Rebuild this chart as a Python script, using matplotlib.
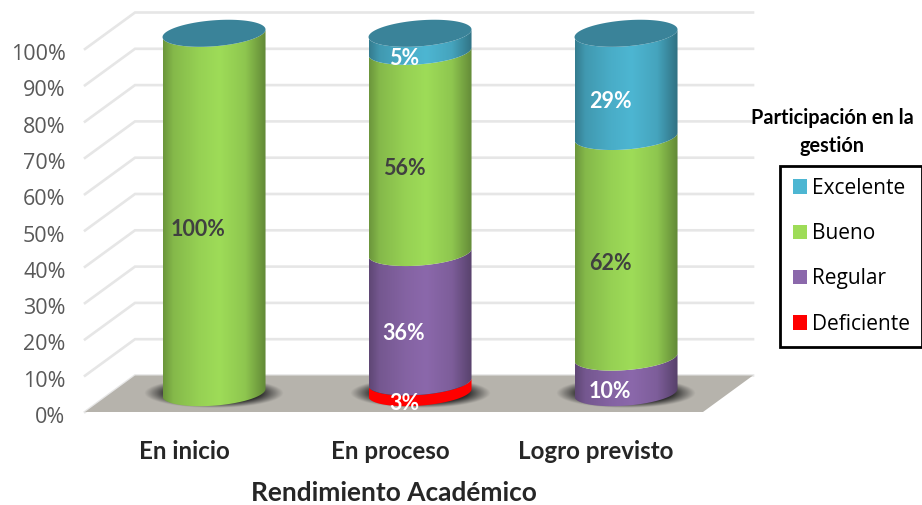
import matplotlib
matplotlib.use('Agg')
import matplotlib.pyplot as plt
import numpy as np
from matplotlib.patches import Patch, PathPatch, Polygon
from matplotlib.path import Path
from matplotlib.transforms import ScaledTranslation

# values
categories = ['En inicio', 'En proceso', 'Logro previsto']
deficiente = [0, 3, 0]
regular = [0, 36, 10]
bueno = [100, 56, 62]
excelente = [0, 5, 29]
y_ticks = [0, 10, 20, 30, 40, 50, 60, 70, 80, 90, 100]

W, H = 922, 505
plt.rcParams['font.family'] = ['Lato', 'DejaVu Sans']

fig = plt.figure(figsize=(W / 100, H / 100), dpi=100)
# front plane of the 3d box: x 85..703 px, y 412..49 px
ax = fig.add_axes([85 / W, 1 - 412 / H, 618 / W, 363 / H])

px_x = 206.0  # px per category
px_y = 3.63   # px per percent
depth_x = 50 / px_x
depth_y = 36.5 / px_y

# back wall lines and side wall lines
for v in y_ticks:
    ax.plot([-0.5, -0.5 + depth_x, 2.5 + depth_x], [v, v + depth_y, v + depth_y],
            color='#e6e6e6', lw=1.9, clip_on=False, zorder=1, solid_joinstyle='miter')

# floor
ax.add_patch(Polygon([(-0.5, 0), (2.5, 0), (2.5 + depth_x, depth_y), (-0.5 + depth_x, depth_y)],
                     closed=True, facecolor='#b6b3ac', edgecolor='none', clip_on=False, zorder=2))

a = 51.5 / px_x   # half width of the cylinder
b = 13 / px_y     # half height of the ellipse
s = 3.8 / px_y    # tilt of the ellipse
cyl_scale = 0.99


def shade(color):
    rgb = np.array(matplotlib.colors.to_rgb(color))
    t = np.linspace(0, 1, 200)
    f = np.interp(t, [0, 0.1, 0.35, 0.55, 0.8, 1], [0.68, 0.84, 0.95, 1.0, 0.9, 0.62])
    return (rgb[None, None, :] * f[None, :, None]).clip(0, 1)


def arc(cx, cy, t):
    return cx + a * np.cos(t), cy + b * np.sin(t) + s * np.cos(t)


def draw_side(cx, y0, y1, color, flat=False):
    t = np.linspace(np.pi, 2 * np.pi, 60)
    x_low, y_low = arc(cx, y0, t)
    x_up, y_up = arc(cx, y1, t[::-1])
    verts = np.column_stack([np.r_[x_low, x_up], np.r_[y_low, y_up]])
    patch = PathPatch(Path(np.vstack([verts, verts[0]]), closed=True), facecolor='none',
                      edgecolor='none', zorder=4)
    ax.add_patch(patch)
    colors = np.ones((1, 200, 3)) * matplotlib.colors.to_rgb(color) if flat else shade(color)
    im = ax.imshow(colors, extent=(cx - a, cx + a, y0 - 2 * b, y1 + 2 * b), aspect='auto',
                   interpolation='bilinear', zorder=4)
    im.set_clip_path(patch)
    im.set_clip_box(fig.bbox)


def draw_shadow(cx, cy):
    xx, yy = np.meshgrid(np.linspace(-1, 1, 160), np.linspace(-1, 1, 80))
    r = np.sqrt(xx ** 2 + yy ** 2)
    rgba = np.zeros((80, 160, 4))
    rgba[..., :3] = 0.15
    rgba[..., 3] = np.clip((1 - r) / 0.32, 0, 1) * 0.95
    im = ax.imshow(rgba, extent=(cx - 70 / px_x, cx + 70 / px_x, cy - 15 / px_y, cy + 15 / px_y),
                   aspect='auto', interpolation='bilinear', zorder=3)
    im.set_clip_box(fig.bbox)


series = [(deficiente, '#ff0000'), (regular, '#8b68ab'), (bueno, '#9edc58'), (excelente, '#4db6d2')]
white_labels = {'#ff0000', '#8b68ab', '#4db6d2'}

for i in range(len(categories)):
    cx = i + depth_x / 2 + 0.005
    base = depth_y / 2 + 0.3
    draw_shadow(cx, base)
    total = sum(vals[i] for vals, c in series)
    cum = 0
    for vals, color in series:
        v = vals[i]
        if v == 0:
            continue
        y0 = base + cum / total * 100 * cyl_scale
        y1 = base + (cum + v) / total * 100 * cyl_scale
        draw_side(cx, y0, y1, color, flat=color == '#ff0000')
        txt_color = 'white' if color in white_labels else '#404040'
        ax.text(cx - 16 / px_x, (y0 + y1) / 2 - 16.5 / px_y, '%d%%' % v, color=txt_color,
                fontsize=15.5, fontweight='bold', ha='center', va='center', zorder=6, clip_on=False)
        cum += v
    # top of the stack always shows the last series colour
    t = np.linspace(0, 2 * np.pi, 100)
    xt, yt = arc(cx, base + 100 * cyl_scale, t)
    ax.fill(xt, yt, color='#3a8399', lw=0, zorder=5, clip_on=False)

ax.set_xlim(-0.5, 2.5)
ax.set_ylim(0, 100)
for sp in ax.spines.values():
    sp.set_visible(False)
ax.patch.set_alpha(0)

ax.set_yticks(y_ticks)
ax.set_yticklabels(['%d%%' % v for v in y_ticks], fontfamily='Open Sans', color='#595959', fontsize=15.5)
ax.tick_params(axis='y', length=0, pad=14)
ax.set_xticks(range(len(categories)))
ax.set_xticklabels(categories, fontsize=17.4, fontweight='bold', color='#262626')
ax.tick_params(axis='x', length=0, pad=20)
ax.set_xlabel('Rendimiento Académico', fontsize=18.9, fontweight='bold', color='#262626', labelpad=13)

for lab in ax.get_yticklabels():
    lab.set_transform(lab.get_transform() + ScaledTranslation(0, -3 / 100, fig.dpi_scale_trans))
for lab in ax.get_xticklabels():
    lab.set_transform(lab.get_transform() + ScaledTranslation(-4 / 100, 0, fig.dpi_scale_trans))

# legend box on the right, title sits outside of it
handles = [Patch(facecolor=c, label=n) for n, c in
           [('Excelente', '#4db6d2'), ('Bueno', '#9edc58'), ('Regular', '#8b68ab'), ('Deficiente', '#ff0000')]]
leg = fig.legend(handles=handles, loc='upper left', bbox_to_anchor=(780 / W, 1 - 165.5 / H),
                 borderaxespad=0, fancybox=False, edgecolor='black', framealpha=1,
                 prop={'family': 'Open Sans', 'size': 15}, handlelength=0.7, handleheight=0.7,
                 handletextpad=0.22, labelspacing=1.16, borderpad=0.6)
leg.get_frame().set_linewidth(2)
fig.text(832 / W, 1 - 132 / H, 'Participación en la\ngestión', ha='center', va='center',
         fontsize=14.3, fontweight='bold', color='black', linespacing=1.45)

fig.savefig('out.png', dpi=100)
